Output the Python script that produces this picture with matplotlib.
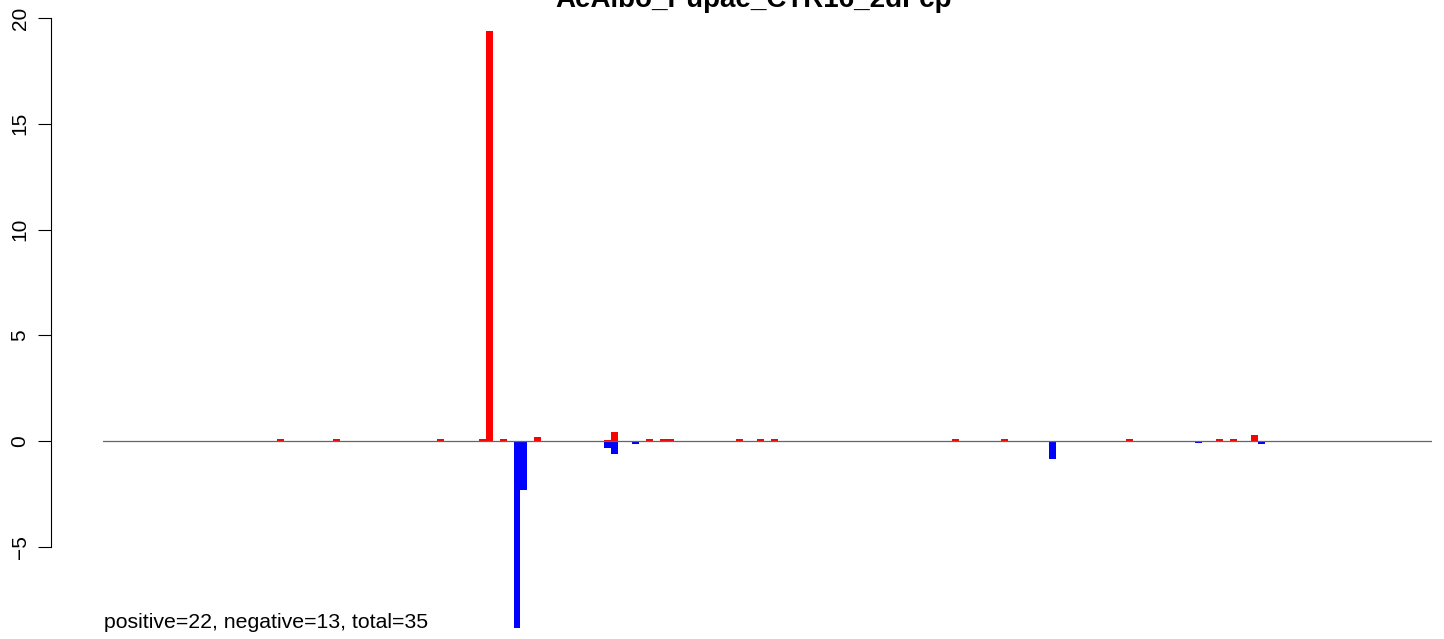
import matplotlib
matplotlib.use("Agg")
import matplotlib.pyplot as plt
import numpy as np

plt.rcParams['font.family'] = ['Liberation Sans', 'DejaVu Sans']

title = "AeAlbo_Pupae_CTR16_2dFcp"
n_bins = 191

# bin index -> value
pos_idx = [25, 33, 48, 54, 55, 57, 62, 72, 73, 78, 80, 81, 91, 94, 96,
           122, 129, 147, 160, 162, 165]
pos_val = [0.08, 0.08, 0.08, 0.11, 19.39, 0.08, 0.17, 0.07, 0.43, 0.11, 0.11,
           0.11, 0.08, 0.11, 0.08, 0.08, 0.08, 0.08, 0.08, 0.08, 0.3]
neg_idx = [59, 60, 72, 73, 76, 136, 157, 166]
neg_val = [-8.84, -2.32, -0.33, -0.61, -0.14, -0.85, -0.09, -0.13]
summary = "positive=22, negative=13, total=35"

pos = np.zeros(n_bins)
pos[pos_idx] = pos_val
neg = np.zeros(n_bins)
neg[neg_idx] = neg_val
x = np.arange(n_bins)

W, H = 1444, 639
fig = plt.figure(figsize=(W / 100, H / 100), dpi=100)
ax = fig.add_axes([103 / W, 0, 1329 / W, 1])

ax.bar(x, pos, width=1.0, align='edge', color='#ff0000', linewidth=0)
ax.bar(x, neg, width=1.0, align='edge', color='#0000ff', linewidth=0)
ax.axhline(0, color='#666666', lw=0.9, zorder=5)

ax.set_xlim(0, n_bins)
ax.set_ylim(-(H - 441) / 21.15, 441 / 21.15)

for s in ['top', 'right', 'bottom']:
    ax.spines[s].set_visible(False)
ax.spines['left'].set_position(('outward', 52 * 0.72))
ax.spines['left'].set_bounds(-5, 20)
ax.spines['left'].set_linewidth(0.8)
ax.set_xticks([])
ax.set_yticks([-5, 0, 5, 10, 15, 20])
ax.set_yticklabels(['\u22125', '0', '5', '10', '15', '20'], rotation=90,
                   va='center', fontsize=15)
ax.tick_params(axis='y', length=9.4, width=0.8, pad=6)

# title is partly off the top edge, as in the source image
fig.text(754 / W, 1 - 7 / H, title, ha='center', va='baseline',
         fontsize=20, fontweight='bold')
fig.text(104 / W, 1 - 628 / H, summary, ha='left', va='baseline',
         fontsize=15.3)

fig.savefig('out.png', dpi=100)
